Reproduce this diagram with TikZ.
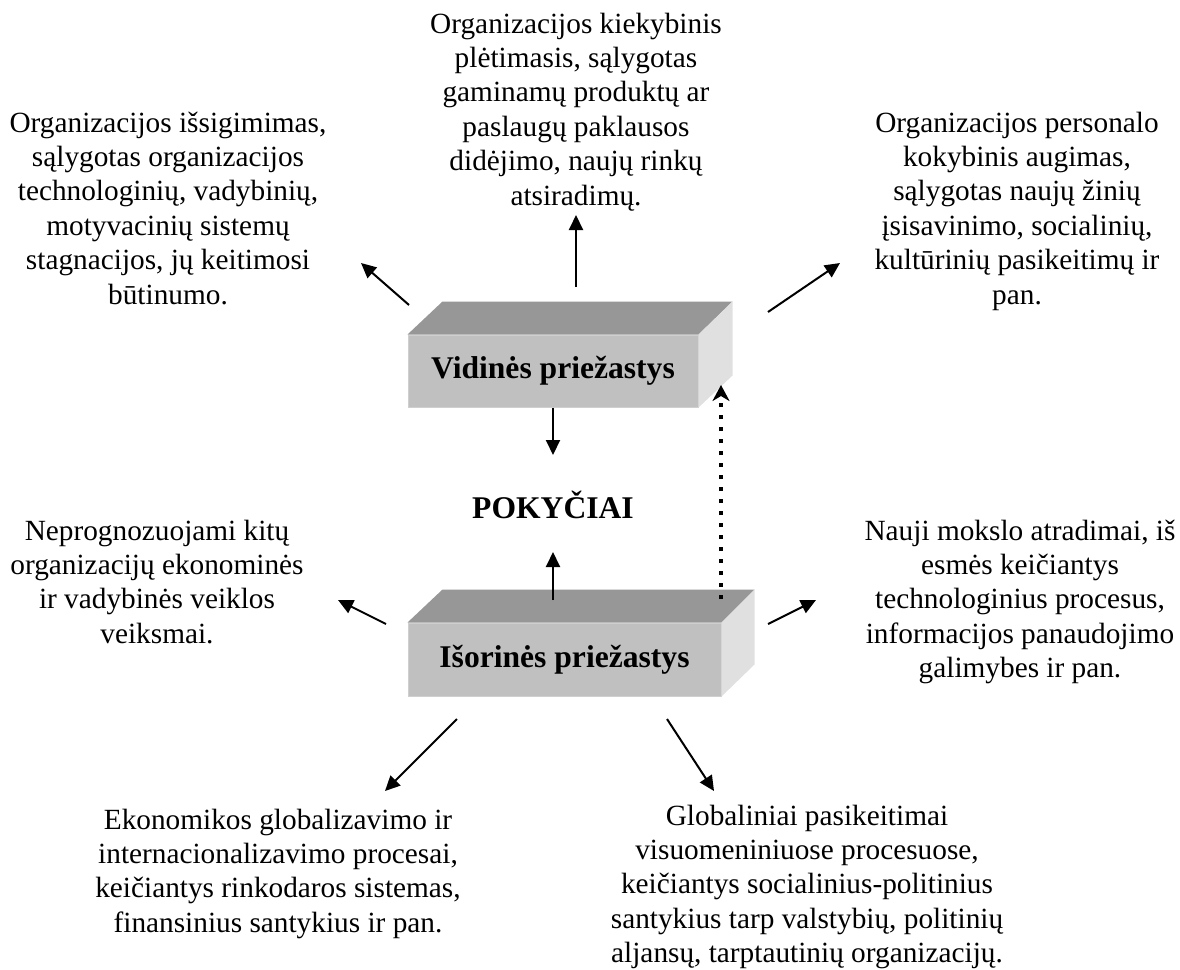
\documentclass[tikz,border=0pt]{standalone}
\usepackage{fontspec}
\setmainfont{Liberation Serif}
\usetikzlibrary{arrows.meta}
\definecolor{frontgray}{HTML}{C0C0C0}
\definecolor{frontedge}{HTML}{CFCFCF}
\definecolor{topgray}{HTML}{979797}
\definecolor{sidegray}{HTML}{E0E0E0}
\tikzset{
  desc/.style={align=center, anchor=north, inner sep=0pt,
               font=\fontsize{29.3}{34.4}\selectfont},
  facebox/.style={fill=frontgray, draw=frontedge, line width=1pt, inner sep=0pt,
               font=\bfseries\fontsize{31.6}{38}\selectfont},
  arr/.style={line width=2pt, -{Triangle[length=15pt,width=14pt]}},
  dotarr/.style={line width=4.5pt, dash pattern=on 4.5pt off 7.5pt,
               -{Stealth[length=16pt,width=17pt,inset=5pt]}}
}
\begin{document}
\begin{tikzpicture}[x=1pt,y=-1pt]
\useasboundingbox (0,0) rectangle (1180,969);

% --- the two 3D boxes ---
\node[facebox, minimum width=290pt, minimum height=72pt] (vid) at (553,371) {Vidinės priežastys};
\fill[topgray] (vid.north west) -- ++(35,-33) -- ([shift={(34,-33)}]vid.north east) -- (vid.north east) -- cycle;
\fill[sidegray] (vid.north east) -- ++(34,-33) -- ([shift={(34,-32)}]vid.south east) -- (vid.south east) -- cycle;

\node[facebox, minimum width=313pt, minimum height=73pt] (isor) at (564.5,659.5) {Išorinės priežastys};
\fill[topgray] (isor.north west) -- ++(35,-33) -- ([shift={(33,-33)}]isor.north east) -- (isor.north east) -- cycle;
\fill[sidegray] (isor.north east) -- ++(33,-33) -- ([shift={(33,-32)}]isor.south east) -- (isor.south east) -- cycle;

% --- central label ---
\node[anchor=base, inner sep=0pt, font=\bfseries\fontsize{31.6}{38}\selectfont] (pok) at (553,518) {POKYČIAI};

% --- descriptions ---
\node[desc] (ttop) at (576,8.9) {\strut Organizacijos kiekybinis\\plėtimasis, sąlygotas\\gaminamų produktų ar\\paslaugų paklausos\\didėjimo, naujų rinkų\\atsiradimų.};
\node[desc] (tleft) at (168,107.9) {\strut Organizacijos išsigimimas,\\sąlygotas organizacijos\\technologinių, vadybinių,\\motyvacinių sistemų\\stagnacijos, jų keitimosi\\būtinumo.};
\node[desc] (tright) at (1017,107.9) {\strut Organizacijos personalo\\kokybinis augimas,\\sąlygotas naujų žinių\\įsisavinimo, socialinių,\\kultūrinių pasikeitimų ir\\pan.};
\node[desc] (mleft) at (157,515.9) {\strut Neprognozuojami kitų\\organizacijų ekonominės\\ir vadybinės veiklos\\veiksmai.};
\node[desc] (mright) at (1020,515.9) {\strut Nauji mokslo atradimai, iš\\esmės keičiantys\\technologinius procesus,\\informacijos panaudojimo\\galimybes ir pan.};
\node[desc] (bleft) at (278,804.9) {\strut Ekonomikos globalizavimo ir\\internacionalizavimo procesai,\\keičiantys rinkodaros sistemas,\\finansinius santykius ir pan.};
\node[desc] (bright) at (807,800.9) {\strut Globaliniai pasikeitimai\\visuomeniniuose procesuose,\\keičiantys socialinius-politinius\\santykius tarp valstybių, politinių\\aljansų, tarptautinių organizacijų.};

% --- arrow end points ---
\coordinate (upT) at (576,287);   \coordinate (upH) at (576,215);
\coordinate (tlT) at (409,305);   \coordinate (tlH) at (361,263);
\coordinate (trT) at (768,312);   \coordinate (trH) at (840,263);
\coordinate (dnH) at (553,455);
\coordinate (inT) at (553,600);   \coordinate (inH) at (553,552);
\coordinate (dtT) at (721,599);   \coordinate (dtH) at (721,385);
\coordinate (mlT) at (386,624);   \coordinate (mlH) at (338,600);
\coordinate (mrT) at (768,624);   \coordinate (mrH) at (816,600);
\coordinate (blT) at (457,719);   \coordinate (blH) at (385,791);
\coordinate (brT) at (667,719);   \coordinate (brH) at (714,791);

% --- arrows ---
\draw[arr] (upT) -- (upH);
\draw[arr] (tlT) -- (tlH);
\draw[arr] (trT) -- (trH);
\draw[arr] (vid.south) -- (dnH);
\draw[arr] (inT) -- (inH);
\draw[arr] (mlT) -- (mlH);
\draw[arr] (mrT) -- (mrH);
\draw[arr] (blT) -- (blH);
\draw[arr] (brT) -- (brH);
\draw[dotarr] (dtT) -- (dtH);
\end{tikzpicture}
\end{document}
